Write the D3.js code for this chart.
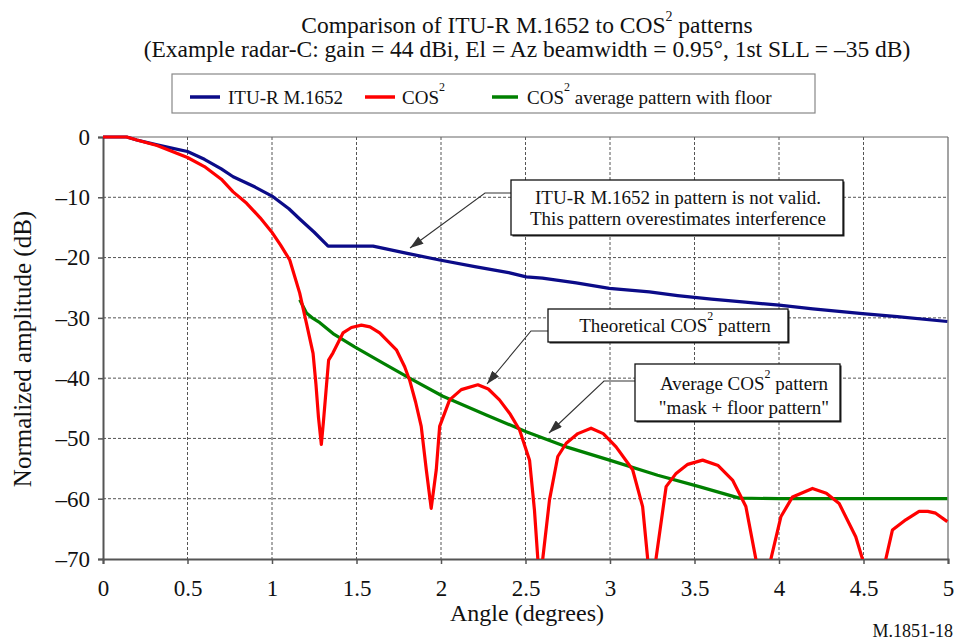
<!DOCTYPE html>
<html>
<head>
<meta charset="utf-8">
<script src="https://cdn.jsdelivr.net/npm/d3@7/dist/d3.min.js"></script>
<style>
  body { margin: 0; background: #fff; }
  svg text { font-family: "Liberation Serif", "Times New Roman", serif; fill: #111; }
</style>
</head>
<body>
<script>
// ITU-R M.1652 pattern (blue)
var ituAngle = [0, 0.14, 0.2, 0.32, 0.4, 0.5, 0.6, 0.7, 0.77, 0.9, 1.0, 1.1, 1.164, 1.25, 1.332, 1.598,
  1.8, 1.992, 2.2, 2.4, 2.504, 2.6, 2.8, 2.996, 3.233, 3.4, 3.6, 3.8, 4.001, 4.2, 4.494, 4.7, 4.996];
var ituDb = [0, 0, -0.5, -1.3, -1.8, -2.4, -3.7, -5.3, -6.6, -8.3, -9.8, -11.9, -13.6, -15.8, -18.1, -18.1,
  -19.3, -20.4, -21.5, -22.5, -23.2, -23.4, -24.2, -25.1, -25.7, -26.3, -26.9, -27.4, -27.9, -28.5, -29.3, -29.8, -30.6];

// theoretical COS^2 pattern (red); values under -70 run off the plot
var cosAngle = [0, 0.14, 0.2, 0.32, 0.5, 0.6, 0.7, 0.77, 0.85, 0.93, 0.997, 1.05, 1.105, 1.164, 1.204, 1.243,
  1.26, 1.275, 1.292, 1.305, 1.32, 1.335, 1.361, 1.42, 1.47, 1.529, 1.58, 1.637, 1.736, 1.785, 1.814,
  1.85, 1.883, 1.913, 1.942, 1.972, 1.992, 2.051, 2.12, 2.218, 2.28, 2.346, 2.41, 2.465, 2.524, 2.553,
  2.573, 2.588, 2.602, 2.642, 2.691, 2.741, 2.81, 2.888, 2.96, 3.036, 3.134, 3.193, 3.223, 3.248,
  3.272, 3.332, 3.391, 3.46, 3.548, 3.64, 3.725, 3.804, 3.863, 3.91, 3.952, 4.011, 4.08, 4.198,
  4.28, 4.356, 4.454, 4.494, 4.56, 4.632, 4.671, 4.75, 4.829, 4.88, 4.927, 4.996];
var cosDb = [0, 0, -0.5, -1.4, -3.4, -4.9, -7.0, -9.1, -11.0, -13.4, -15.7, -17.9, -20.4, -25.9, -30.9, -35.9,
  -41, -46.5, -51, -47, -42, -37, -35.8, -32.5, -31.6, -31.2, -31.5, -32.5, -35.3, -38.1, -40.3,
  -44, -48, -55.2, -61.6, -55.2, -48, -43.6, -41.9, -41.1, -41.8, -43.6, -46, -48.6, -53.6, -61.9,
  -70, -90, -70, -60.2, -53, -50.8, -49.2, -48.3, -49.2, -51.4, -55.2, -61.3, -70, -90,
  -70, -58, -55.8, -54.3, -53.6, -54.5, -56.9, -61.3, -70, -90, -70, -63, -59.7, -58.3,
  -59.1, -60.8, -66.3, -70, -90, -70, -65.2, -63.5, -62.1, -62.1, -62.4, -63.8];

// COS^2 average pattern with -60 dB floor (green)
var avgAngle = [1.164, 1.204, 1.243, 1.283, 1.361, 1.489, 1.657, 1.814, 2.011, 2.268, 2.504, 2.741, 2.997,
  3.282, 3.528, 3.765, 4.0, 4.5, 4.996];
var avgDb = [-27.0, -29.2, -30.1, -30.8, -32.6, -34.8, -37.5, -40.0, -43.0, -46.1, -48.9, -51.4, -53.6,
  -56.1, -58.0, -59.9, -60, -60, -60];

var xTickVals = [0, 0.5, 1, 1.5, 2, 2.5, 3, 3.5, 4, 4.5, 5];
var yTickVals = [0, -10, -20, -30, -40, -50, -60, -70];

var width = 956, height = 642;
var margin = { left: 103, top: 137, right: 8, bottom: 83 };
var innerW = width - margin.left - margin.right;
var innerH = height - margin.top - margin.bottom;

var svg = d3.select("body").append("svg")
  .attr("width", width).attr("height", height);

var xScale = d3.scaleLinear().domain([0, 5]).range([margin.left, margin.left + innerW]);
var yScale = d3.scaleLinear().domain([-70, 0]).range([margin.top + innerH, margin.top]);

// title
svg.append("text").attr("x", 527).attr("y", 33).attr("text-anchor", "middle")
  .style("font-size", "23.5px")
  .call(function (t) {
    t.append("tspan").text("Comparison of ITU-R M.1652 to COS");
    t.append("tspan").attr("dy", -12).style("font-size", "14px").text("2");
    t.append("tspan").attr("dy", 12).text(" patterns");
  });
svg.append("text").attr("x", 527).attr("y", 57).attr("text-anchor", "middle")
  .style("font-size", "23.5px")
  .text("(Example radar-C: gain = 44 dBi, El = Az beamwidth = 0.95°, 1st SLL = –35 dB)");

// legend
var legend = svg.append("g");
legend.append("rect").attr("x", 172).attr("y", 74).attr("width", 643).attr("height", 39)
  .attr("fill", "#fff").attr("stroke", "#888").attr("stroke-width", 1.2);
var legendItems = [
  { color: "#0b0b88", x1: 190, x2: 220, tx: 228, label: "ITU-R M.1652", sup: false },
  { color: "#ff0000", x1: 365, x2: 395, tx: 402, label: "COS", sup: true, rest: "" },
  { color: "#008000", x1: 492, x2: 518, tx: 527, label: "COS", sup: true, rest: " average pattern with floor" }
];
legendItems.forEach(function (d) {
  legend.append("line").attr("x1", d.x1).attr("x2", d.x2).attr("y1", 97).attr("y2", 97)
    .attr("stroke", d.color).attr("stroke-width", 3.5);
  var t = legend.append("text").attr("x", d.tx).attr("y", 104).style("font-size", "19px");
  t.append("tspan").text(d.label);
  if (d.sup) {
    t.append("tspan").attr("dy", -13).style("font-size", "12px").text("2");
    if (d.rest) t.append("tspan").attr("dy", 13).text(d.rest);
  }
});

// grid
var grid = svg.append("g");
grid.selectAll(".vg").data(xTickVals.slice(1, -1)).enter().append("line")
  .attr("x1", d => xScale(d)).attr("x2", d => xScale(d))
  .attr("y1", yScale(0)).attr("y2", yScale(-70))
  .attr("stroke", "#555").attr("stroke-width", 1).attr("stroke-dasharray", "3,2");
grid.selectAll(".hg").data(yTickVals.slice(1, -1)).enter().append("line")
  .attr("x1", xScale(0)).attr("x2", xScale(5))
  .attr("y1", d => yScale(d)).attr("y2", d => yScale(d))
  .attr("stroke", "#555").attr("stroke-width", 1).attr("stroke-dasharray", "3,2");

// frame (top and right)
svg.append("line").attr("x1", xScale(0)).attr("x2", xScale(5)).attr("y1", yScale(0)).attr("y2", yScale(0))
  .attr("stroke", "#666").attr("stroke-width", 1.2);
svg.append("line").attr("x1", xScale(5)).attr("x2", xScale(5)).attr("y1", yScale(0)).attr("y2", yScale(-70))
  .attr("stroke", "#666").attr("stroke-width", 1.2);

// axes
var xAxis = d3.axisBottom(xScale).tickValues(xTickVals).tickSize(5).tickPadding(10)
  .tickFormat(d3.format("~g"));
var yAxis = d3.axisLeft(yScale).tickValues(yTickVals).tickSize(5).tickPadding(8)
  .tickFormat(d => d < 0 ? "–" + Math.abs(d) : String(d));

var xAxisG = svg.append("g").attr("transform", "translate(0," + yScale(-70) + ")").call(xAxis);
var yAxisG = svg.append("g").attr("transform", "translate(" + xScale(0) + ",0)").call(yAxis);
[xAxisG, yAxisG].forEach(function (g) {
  g.select(".domain").attr("stroke", "#555").attr("stroke-width", 2);
  g.selectAll(".tick line").attr("stroke", "#555").attr("stroke-width", 1.5);
  g.selectAll(".tick text").style("font-size", "23px")
    .style("font-family", "'Liberation Serif', 'Times New Roman', serif").attr("fill", "#111");
});
xAxisG.selectAll(".tick text").attr("dy", "0.95em");

// axis titles
svg.append("text").attr("x", 527).attr("y", 621).attr("text-anchor", "middle")
  .style("font-size", "24px").text("Angle (degrees)");
svg.append("text").attr("transform", "translate(31,349) rotate(-90)").attr("text-anchor", "middle")
  .style("font-size", "25px").text("Normalized amplitude (dB)");

// curves
svg.append("clipPath").attr("id", "plotClip").append("rect")
  .attr("x", xScale(0) - 2).attr("y", yScale(0) - 4)
  .attr("width", innerW + 4).attr("height", innerH + 4);

var line = d3.line().x(d => xScale(d[0])).y(d => yScale(d[1]));
var curves = svg.append("g").attr("clip-path", "url(#plotClip)");
var series = [
  { angle: avgAngle, db: avgDb, color: "#008000" },
  { angle: ituAngle, db: ituDb, color: "#0b0b88" },
  { angle: cosAngle, db: cosDb, color: "#ff0000" }
];
series.forEach(function (s) {
  curves.append("path")
    .datum(d3.zip(s.angle, s.db))
    .attr("d", line)
    .attr("fill", "none")
    .attr("stroke", s.color)
    .attr("stroke-width", 3.2)
    .attr("stroke-linejoin", "round");
});

// annotations
svg.append("defs").append("marker").attr("id", "arrowHead")
  .attr("viewBox", "0 0 12 8").attr("refX", 12).attr("refY", 4)
  .attr("markerWidth", 14).attr("markerHeight", 9).attr("markerUnits", "userSpaceOnUse")
  .attr("orient", "auto")
  .append("path").attr("d", "M0,0 L12,4 L0,8 Z").attr("fill", "#333");

var notes = [
  { box: [511, 180, 332, 55], lines: ["ITU-R M.1652 in pattern is not valid.", "This pattern overestimates interference"],
    tx: 678, ty: [204, 225], leader: [[511, 193], [485, 193], [410, 248]] },
  { box: [548, 309, 240, 33], lines: [["Theoretical COS", "2", " pattern"]],
    tx: 675, ty: [332], leader: [[548, 331], [531, 331], [487, 384]] },
  { box: [635, 364, 205, 57], lines: [["Average COS", "2", " pattern"], "\"mask + floor pattern\""],
    tx: 744, ty: [390, 414], leader: [[635, 381], [604, 381], [549, 433]] }
];
notes.forEach(function (n) {
  svg.append("path")
    .attr("d", d3.line()(n.leader))
    .attr("fill", "none").attr("stroke", "#333").attr("stroke-width", 1.1)
    .attr("marker-end", "url(#arrowHead)");
  svg.append("rect").attr("x", n.box[0] + 1.5).attr("y", n.box[1] + 1.5)
    .attr("width", n.box[2]).attr("height", n.box[3]).attr("fill", "#222");
  svg.append("rect").attr("x", n.box[0]).attr("y", n.box[1])
    .attr("width", n.box[2]).attr("height", n.box[3])
    .attr("fill", "#fff").attr("stroke", "#111").attr("stroke-width", 1.3);
  n.lines.forEach(function (l, i) {
    var t = svg.append("text").attr("x", n.tx).attr("y", n.ty[i]).attr("text-anchor", "middle")
      .style("font-size", "19px");
    if (typeof l === "string") {
      t.text(l);
    } else {
      t.append("tspan").text(l[0]);
      t.append("tspan").attr("dy", -12).style("font-size", "12px").text(l[1]);
      t.append("tspan").attr("dy", 12).text(l[2]);
    }
  });
});

// figure id
svg.append("text").attr("x", 953).attr("y", 637).attr("text-anchor", "end")
  .style("font-size", "18px").text("M.1851-18");
</script>
</body>
</html>
